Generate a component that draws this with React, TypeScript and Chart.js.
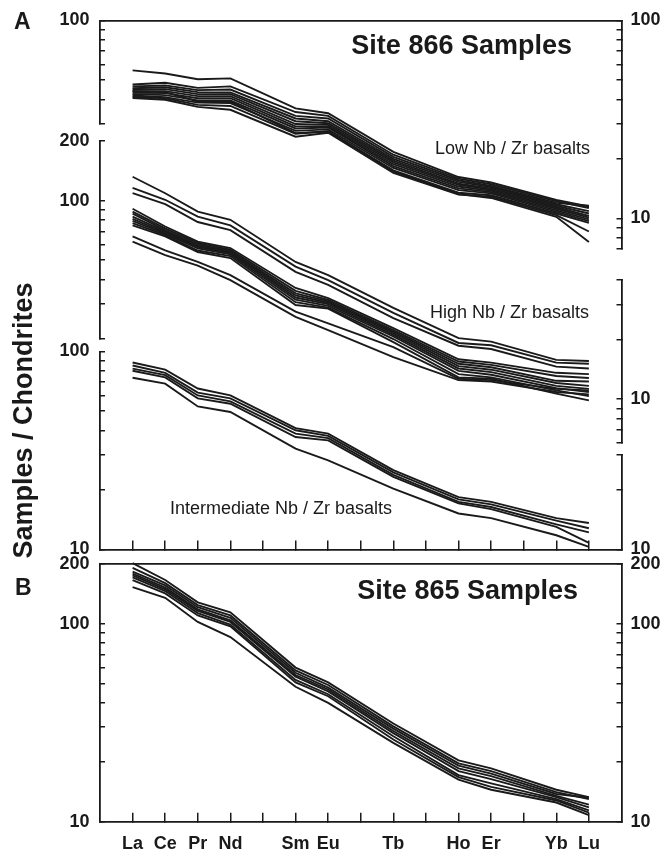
import React, { useEffect, useRef } from 'react';
import { Chart, registerables } from 'chart.js';

Chart.register(...registerables);

const INK = '#1a1a1a';
const FONT = '"Liberation Sans", Arial, Helvetica, sans-serif';

// Rare-earth elements along the x axis (all tick positions) and the labels printed under them
const elements = ['La', 'Ce', 'Pr', 'Nd', 'Pm', 'Sm', 'Eu', 'Gd', 'Tb', 'Dy', 'Ho', 'Er', 'Tm', 'Yb', 'Lu'];
const elementTickLabels = ['La', 'Ce', 'Pr', 'Nd', '', 'Sm', 'Eu', '', 'Tb', '', 'Ho', 'Er', '', 'Yb', 'Lu'];
// Elements that were analysed (the vertices of every pattern)
const measured = ['La', 'Ce', 'Pr', 'Nd', 'Sm', 'Eu', 'Tb', 'Ho', 'Er', 'Yb', 'Lu'];

// Site 866 - Low Nb/Zr basalts (right-hand scale 7-100)
const lowNbZr: number[][] = [
  [56, 54, 50.5, 51, 36, 34, 21.7, 16.2, 15.2, 12.4, 11.5],
  [47.5, 48.5, 45.7, 46.5, 34.5, 33, 21, 15.9, 14.9, 12.2, 11.3],
  [46.5, 47, 44.5, 44.8, 33, 32, 20.5, 15.6, 14.6, 12.0, 11.6],
  [45.5, 46, 43.5, 43.3, 32, 31, 20, 15.3, 14.4, 11.8, 10.9],
  [44.8, 45, 42.5, 42.5, 31, 30.3, 19.6, 15.0, 14.2, 11.6, 10.6],
  [44, 44, 41.5, 41.5, 30, 29.7, 19.2, 14.8, 14.0, 11.4, 10.3],
  [43.2, 43, 40.5, 40.5, 29.2, 29.2, 18.8, 14.5, 13.8, 11.2, 10.1],
  [42.5, 42, 39.5, 39.5, 28.5, 28.8, 18.4, 14.2, 13.6, 11.0, 9.9],
  [41.8, 41, 38.5, 38.3, 27.7, 28.2, 18.0, 13.9, 13.4, 10.8, 9.7],
  [41.2, 40.5, 37.5, 37, 26.8, 27.6, 17.5, 13.5, 13.1, 10.6, 9.5],
  [40.6, 39.8, 36.6, 35.4, 25.9, 27.1, 17.0, 13.2, 12.9, 10.4, 8.6],
  [44, 43.5, 39, 39, 27, 27.5, 17.3, 13.3, 12.7, 10.2, 7.6],
];

// Site 866 - High Nb/Zr basalts (left scale 20-200 / right scale 6-40)
const highNbZr: number[][] = [
  [132, 109, 88, 80, 49, 42, 28.7, 20.2, 19.4, 15.7, 15.5],
  [116, 101, 83, 75, 46.4, 39.7, 27.1, 19.1, 18.6, 15.2, 15.0],
  [109, 96, 78, 71, 43.7, 37.5, 25.5, 18.5, 17.8, 14.5, 14.2],
  [91, 74, 62, 57.6, 36.2, 32.2, 22.7, 15.8, 15.2, 13.5, 13.3],
  [88, 72.5, 61, 56.5, 35, 31.5, 22.2, 15.4, 14.8, 13.0, 12.7],
  [86, 71, 60, 55.5, 34, 31, 21.8, 15.0, 14.4, 12.3, 12.2],
  [83, 70, 59, 55, 33.2, 30.5, 21.4, 14.6, 14.0, 12.0, 11.6],
  [81, 69, 58.5, 54.4, 32.4, 30, 21, 14.2, 13.6, 11.6, 11.2],
  [79, 68, 57.5, 53.5, 31.6, 29.4, 20.6, 13.8, 13.2, 11.3, 10.8],
  [77, 67, 56, 52.5, 30.7, 28.8, 20.0, 13.3, 12.8, 11.0, 10.3],
  [75, 66, 55, 51.3, 29.7, 28.5, 19.3, 12.8, 12.6, 10.6, 9.8],
  [66, 56, 49, 42, 27.5, 24, 18.2, 12.6, 12.4, 11.2, 11.0],
  [62, 53, 47, 39.7, 25.9, 22.2, 16.2, 12.4, 12.2, 10.8, 10.5],
];

// Site 866 - Intermediate Nb/Zr basalts (left scale 10-100)
const intermediateNbZr: number[][] = [
  [88, 81, 65, 60, 41, 38.5, 25.2, 18.4, 17.4, 14.4, 13.6],
  [85, 78, 62, 58, 40, 37.5, 24.5, 17.9, 16.9, 14.0, 12.8],
  [82, 76, 60, 56, 38.5, 36.5, 23.8, 17.4, 16.4, 13.4, 12.2],
  [80, 74, 58, 54.5, 37, 35.6, 23.3, 17.1, 16.0, 13.0, 10.8],
  [73.7, 68.8, 52.8, 49.5, 32.3, 28.2, 20.3, 15.2, 14.4, 11.8, 10.3],
];

// Site 865 samples (scale 10-200)
const site865: number[][] = [
  [202, 166, 128, 114, 60, 50.5, 31.3, 20.4, 18.6, 14.5, 13.3],
  [191, 160, 124, 110, 58, 49, 30.3, 19.7, 18.0, 14.1, 13.0],
  [183, 156, 121, 107, 56.5, 47.5, 29.5, 19.2, 17.5, 13.8, 13.2],
  [179, 152, 118, 104, 55, 46.5, 28.7, 18.6, 17.0, 13.5, 12.2],
  [175, 149, 116, 102, 54, 45.5, 28, 18, 16.4, 13.3, 11.8],
  [171, 146, 113, 99, 52, 44, 27, 17.2, 15.6, 13.0, 11.4],
  [166, 142, 110, 97, 50.5, 43, 26, 16.8, 15.0, 12.8, 11.1],
  [153, 135, 102, 85.5, 48, 39.8, 25, 16.3, 14.5, 12.5, 10.8],
];

// Axis ranges, tick values and printed tick labels
const lowLeftRange = [30, 100];
const lowLeftTicks = [30, 40, 50, 60, 70, 80, 90, 100];
const lowLeftLabels = [100];
const highLeftRange = [20, 200];
const highLeftTicks = [20, 30, 40, 50, 60, 70, 80, 90, 100, 200];
const highLeftLabels = [200, 100];
const intLeftRange = [10, 100];
const intLeftTicks = [10, 20, 30, 40, 50, 60, 70, 80, 90, 100];
const intLeftLabels = [100, 10];
const lowRightRange = [7, 100];
const lowRightTicks = [7, 8, 9, 10, 20, 30, 40, 50, 60, 70, 80, 90, 100];
const lowRightLabels = [100, 10];
const highRightRange = [6, 40];
const highRightTicks = [6, 7, 8, 9, 10, 20, 30, 40];
const highRightLabels = [10];
const intRightRange = [10, 30];
const intRightTicks = [10, 20, 30];
const intRightLabels = [10];
const site865Range = [10, 200];
const site865Ticks = [10, 20, 30, 40, 50, 60, 70, 80, 90, 100, 200];
const site865Labels = [200, 100, 10];

// ---- layout constants (pixels) ----
const LEFT_W = 100;
const RIGHT_W = 45.5;

const tickFont = { family: FONT, size: 18, weight: 'bold' as const };

function toPoints(row: number[]) {
  return measured.map((el, i) => ({ x: elements.indexOf(el), y: row[i] }));
}

function lineSets(rows: number[][], yAxisID: string) {
  return rows.map((row) => ({
    data: toPoints(row),
    yAxisID,
    xAxisID: 'x',
    borderColor: INK,
    borderWidth: 1.9,
    pointRadius: 0,
    fill: false,
    tension: 0,
    clip: false as const,
  }));
}

function yLog(
  position: 'left' | 'right',
  range: number[],
  ticks: number[],
  labels: number[],
  weight: number,
  stack?: string,
) {
  const [min, max] = range;
  const axis: any = {
    type: 'logarithmic',
    axis: 'y',
    position,
    min,
    max,
    weight,
    afterBuildTicks: (s: any) => {
      s.ticks = ticks.map((v) => ({ value: v }));
    },
    afterFit: (s: any) => {
      s.width = position === 'left' ? LEFT_W : RIGHT_W;
      s.paddingTop = 0;
      s.paddingBottom = 0;
    },
    border: { display: true, color: INK, width: 1.8 },
    grid: { drawOnChartArea: false, drawTicks: true, tickLength: -5, color: INK, tickColor: INK, lineWidth: 1.5 },
    ticks: {
      autoSkip: false,
      color: INK,
      padding: position === 'left' ? 15.5 : 14,
      font: tickFont,
      callback: (v: any) => (labels.includes(Number(v)) ? String(v) : ''),
    },
  };
  if (stack) {
    axis.stack = stack;
    axis.stackWeight = Math.log10(max / min);
  }
  return axis;
}

function gapAxis(position: 'left' | 'right', weight: number, stack: string, stackWeight: number) {
  return { type: 'linear' as const, axis: 'y' as const, position, display: false, min: 0, max: 1, weight, stack, stackWeight };
}

function xBottom(showLabels: boolean, height: number) {
  return {
    type: 'linear' as const,
    axis: 'x' as const,
    position: 'bottom' as const,
    min: -1,
    max: elements.length,
    afterBuildTicks: (s: any) => {
      s.ticks = elements.map((_, i) => ({ value: i }));
    },
    afterFit: (s: any) => {
      s.height = height;
      s.paddingLeft = 0;
      s.paddingRight = 0;
    },
    border: { display: true, color: INK, width: 1.8 },
    grid: { drawOnChartArea: false, drawTicks: true, tickLength: -9, color: INK, tickColor: INK, lineWidth: 1.5 },
    ticks: {
      display: showLabels,
      autoSkip: false,
      maxRotation: 0,
      minRotation: 0,
      color: INK,
      padding: 21,
      font: tickFont,
      callback: (v: any) => elementTickLabels[Number(v)] ?? '',
    },
  };
}

function xTop() {
  return {
    type: 'linear' as const,
    axis: 'x' as const,
    position: 'top' as const,
    min: -1,
    max: elements.length,
    afterFit: (s: any) => {
      s.height = 0;
      s.paddingLeft = 0;
      s.paddingRight = 0;
    },
    border: { display: true, color: INK, width: 1.8 },
    grid: { display: false, drawOnChartArea: false, drawTicks: false },
    ticks: { display: false },
  };
}

const commonOptions = {
  responsive: false,
  animation: false as const,
  events: [] as any[],
  plugins: { legend: { display: false }, tooltip: { enabled: false }, title: { display: false } },
};

function configA(): any {
  return {
    type: 'line',
    data: {
      datasets: [
        ...lineSets(lowNbZr, 'lowR'),
        ...lineSets(highNbZr, 'highL'),
        ...lineSets(intermediateNbZr, 'intL'),
      ],
    },
    options: {
      ...commonOptions,
      layout: { padding: { top: 20.5, left: 0, right: 0, bottom: 40.5 } },
      scales: {
        x: xBottom(false, 10),
        xTop: xTop(),
        lowL: yLog('left', lowLeftRange, lowLeftTicks, lowLeftLabels, 5, 'A'),
        gapL1: gapAxis('left', 4, 'A', 0.0859),
        highL: yLog('left', highLeftRange, highLeftTicks, highLeftLabels, 3, 'A'),
        gapL2: gapAxis('left', 2, 'A', 0.0631),
        intL: yLog('left', intLeftRange, intLeftTicks, intLeftLabels, 1, 'A'),
        lowR: yLog('right', lowRightRange, lowRightTicks, lowRightLabels, 1, 'A'),
        gapR1: gapAxis('right', 2, 'A', 0.1556),
        highR: yLog('right', highRightRange, highRightTicks, highRightLabels, 3, 'A'),
        gapR2: gapAxis('right', 4, 'A', 0.0601),
        intR: yLog('right', intRightRange, intRightTicks, intRightLabels, 5, 'A'),
      },
    },
  };
}

function configB(): any {
  return {
    type: 'line',
    data: { datasets: lineSets(site865, 'yB') },
    options: {
      ...commonOptions,
      layout: { padding: { top: 24, left: 0, right: 0, bottom: 0 } },
      scales: {
        x: xBottom(true, 35.3),
        xTop: xTop(),
        yB: yLog('left', site865Range, site865Ticks, site865Labels, 0),
        yB2: yLog('right', site865Range, site865Ticks, site865Labels, 0),
      },
    },
  };
}

const textBase: React.CSSProperties = {
  position: 'absolute',
  whiteSpace: 'nowrap',
  fontFamily: FONT,
  color: INK,
  margin: 0,
};

export default function App() {
  const refA = useRef<HTMLCanvasElement>(null);
  const refB = useRef<HTMLCanvasElement>(null);

  useEffect(() => {
    const a = new Chart(refA.current as HTMLCanvasElement, configA());
    const b = new Chart(refB.current as HTMLCanvasElement, configB());
    return () => {
      a.destroy();
      b.destroy();
    };
  }, []);

  return (
    <div style={{ position: 'absolute', left: 0, top: 0, width: 667, height: 857, background: '#fff', overflow: 'hidden' }}>
      <canvas ref={refA} width={667} height={600} style={{ position: 'absolute', left: 0, top: 0, width: 667, height: 600 }} />
      <canvas ref={refB} width={667} height={317} style={{ position: 'absolute', left: 0, top: 540, width: 667, height: 317 }} />

      <div style={{ ...textBase, left: 14, top: 10, fontSize: 23, lineHeight: '23px', fontWeight: 'bold' }}>A</div>
      <div style={{ ...textBase, left: 15, top: 576, fontSize: 23, lineHeight: '23px', fontWeight: 'bold' }}>B</div>

      <div style={{ ...textBase, right: 95, top: 32, fontSize: 27, lineHeight: '27px', fontWeight: 'bold' }}>Site 866 Samples</div>
      <div style={{ ...textBase, right: 89, top: 576.5, fontSize: 27, lineHeight: '27px', fontWeight: 'bold' }}>Site 865 Samples</div>

      <div style={{ ...textBase, right: 77, top: 138.5, fontSize: 18, lineHeight: '18px' }}>Low Nb / Zr basalts</div>
      <div style={{ ...textBase, right: 78, top: 302.7, fontSize: 18, lineHeight: '18px' }}>High Nb / Zr basalts</div>
      <div style={{ ...textBase, left: 170, top: 499.3, fontSize: 18, lineHeight: '18px' }}>Intermediate Nb / Zr basalts</div>

      <div
        style={{
          ...textBase,
          left: 22.5 - 200,
          top: 420 - 13.5,
          width: 400,
          height: 27,
          fontSize: 27,
          lineHeight: '27px',
          fontWeight: 'bold',
          textAlign: 'center',
          transform: 'rotate(-90deg)',
        }}
      >
        Samples / Chondrites
      </div>
    </div>
  );
}
